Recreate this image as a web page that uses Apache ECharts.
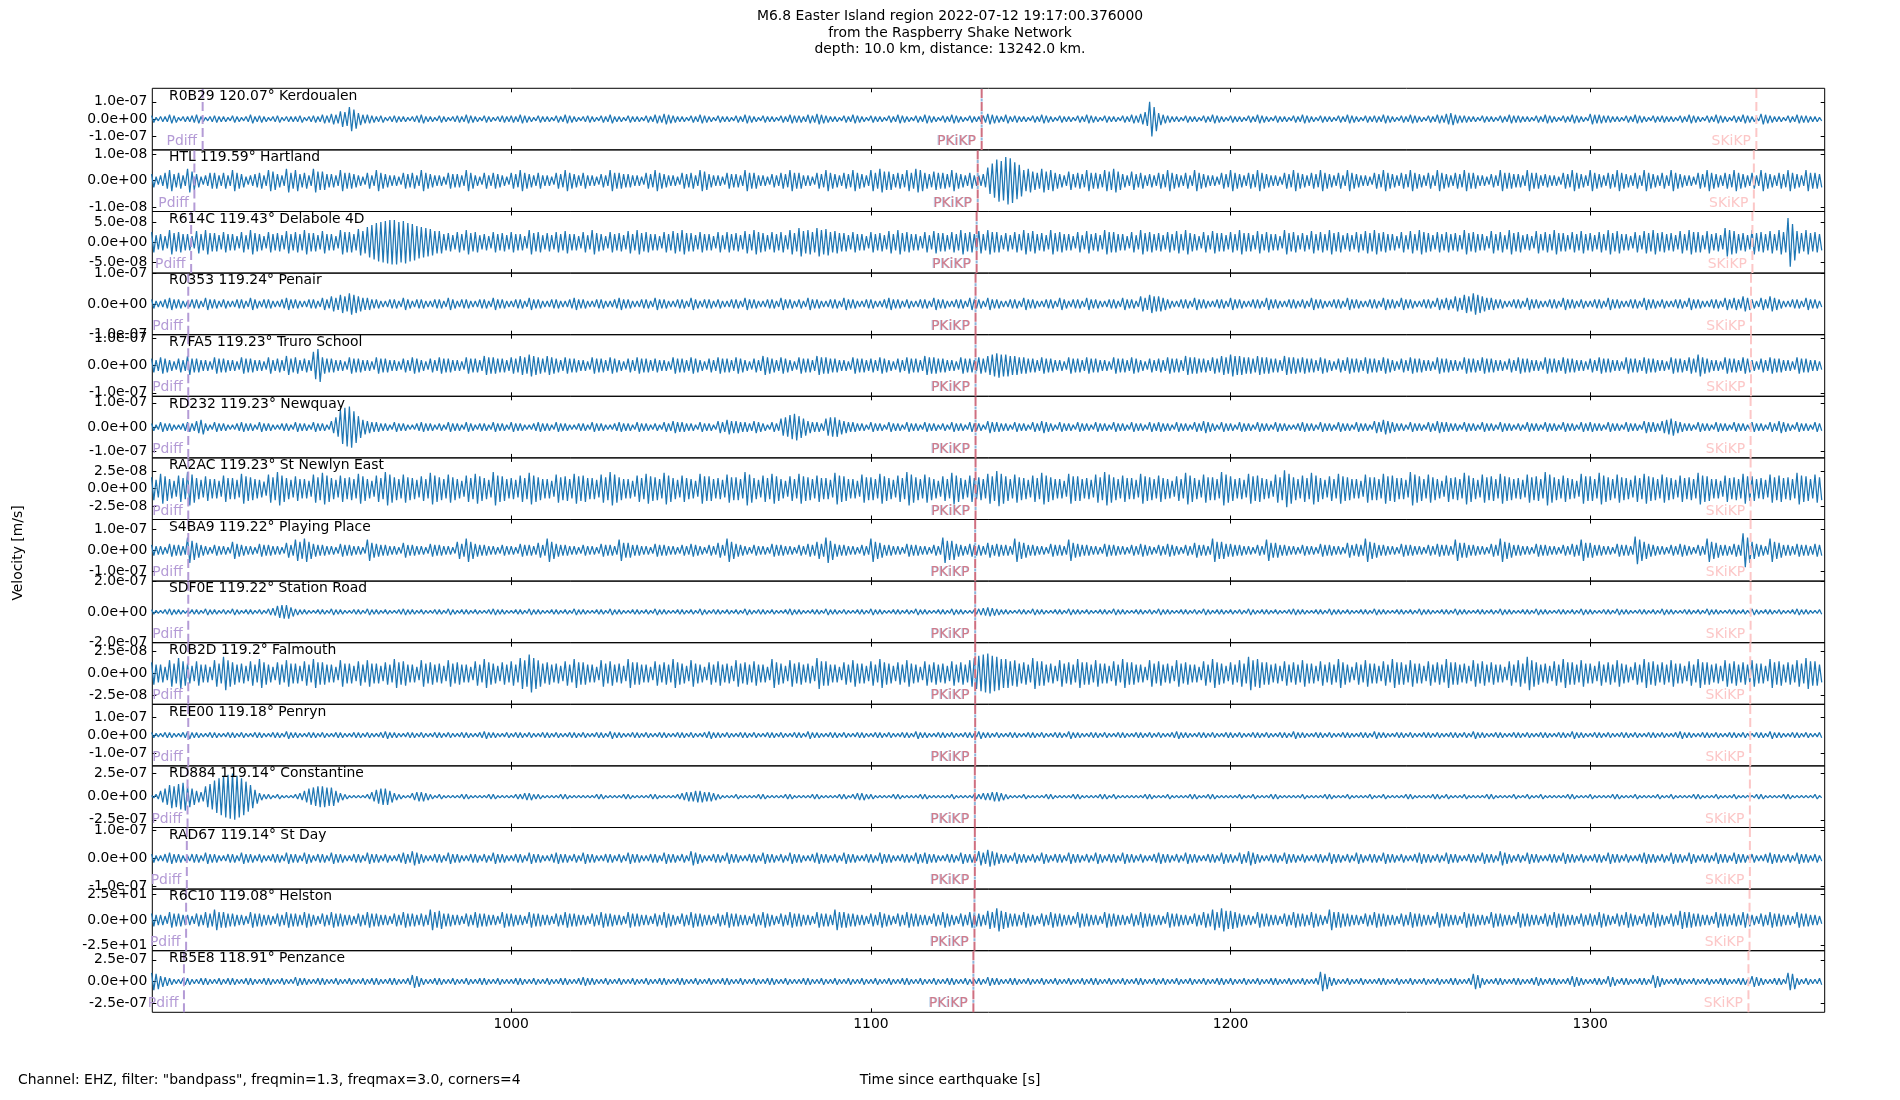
<!DOCTYPE html>
<html><head><meta charset="utf-8">
<script src="https://cdn.jsdelivr.net/npm/echarts@6/dist/echarts.min.js"></script>
<style>html,body{margin:0;padding:0;background:#fff}#c{width:1900px;height:1100px}</style>
</head><body><div id="c"></div>
<script>
// ---------------- data ----------------
const stationCodes = ['R0B29','HTL','R614C','R0353','R7FA5','RD232','RA2AC','S4BA9','SDF0E','R0B2D','REE00','RD884','RAD67','R6C10','RB5E8'];
const stationDist  = ['120.07','119.59','119.43','119.24','119.23','119.23','119.23','119.22','119.22','119.2','119.18','119.14','119.14','119.08','118.91'];
const stationNames = ['Kerdoualen','Hartland','Delabole 4D','Penair','Truro School','Newquay','St Newlyn East','Playing Place','Station Road','Falmouth','Penryn','Constantine','St Day','Helston','Penzance'];
const yTickValues  = [1e-7,1e-8,5e-8,1e-7,1e-7,1e-7,2.5e-8,1e-7,2e-7,2.5e-8,1e-7,2.5e-7,1e-7,25,2.5e-7];
const yHalfRange   = [1.78e-7,1.17e-8,7.6e-8,1.01e-7,1.13e-7,1.27e-7,4.38e-8,1.45e-7,2.03e-7,3.47e-8,1.71e-7,3.33e-7,1.09e-7,30,3.55e-7];
const ampUnits     = [5e-9,5e-10,2.5e-9,5e-9,5e-9,5e-9,1.25e-9,5e-9,5e-9,1.25e-9,5e-9,1.25e-8,5e-9,1.25,1.25e-8];
const pdiffTimes   = [914.2,911.9,911.0,910.2,910.2,910.2,910.2,910.2,910.2,910.2,910.2,910.0,909.8,909.6,909.0];
const pkikpTimes   = [1130.8,1129.7,1129.4,1129.1,1129.1,1129.1,1129.1,1129.0,1129.0,1129.0,1129.0,1128.9,1128.9,1128.8,1128.5];
const skikpTimes   = [1346.2,1345.5,1345.1,1344.7,1344.7,1344.6,1344.6,1344.6,1344.6,1344.5,1344.5,1344.4,1344.4,1344.3,1344.0];
const xTickValues  = [1000,1100,1200,1300];
const timeMin = 900.2, timeMax = 1365.2;
// peak amplitude per 1.25 s bin (in ampUnits), first bin at 900 s; each bin drawn as +peak then -peak
const binStart = 900, binStep = 1.25;

const ampR0B29 = [
4,2,3,3,5,4,2,3,3,4,5,3,2,3,4,3, 3,2,4,3,2,3,5,3,4,3,2,3,4,2,3,3, 3,4,2,3,4,3,5,4,6,5,9,8,14,11,7,5, 5,4,3,4,2,3,4,3,3,2,3,4,5,3,3,2,
4,3,2,3,4,3,5,4,3,2,4,3,2,3,4,3, 4,3,5,4,3,2,4,3,3,2,4,3,5,4,3,2, 3,4,3,2,4,3,5,3,3,2,4,3,3,2,4,3, 5,4,6,5,4,3,3,2,4,3,5,4,3,2,4,3,
3,2,4,3,5,4,3,2,4,3,3,2,4,3,5,4, 4,3,5,4,6,5,4,3,3,2,4,3,5,4,3,2, 4,3,3,2,4,3,5,4,3,2,4,3,5,4,3,2, 4,3,5,4,3,2,4,3,3,4,6,5,4,3,5,3,
4,3,3,2,4,3,5,4,3,2,4,3,3,2,4,3, 5,4,3,2,4,3,3,2,4,3,5,4,6,8,20,14, 7,5,4,3,3,2,4,3,3,2,4,3,5,4,3,2, 4,3,3,2,4,3,5,4,3,2,4,3,3,2,4,3,
5,4,3,2,4,3,3,2,4,3,5,4,3,2,4,3, 4,3,5,4,3,2,4,3,5,4,3,2,4,3,5,4, 6,7,5,4,4,3,3,2,4,3,3,2,4,3,5,4, 4,3,3,2,4,3,5,4,3,2,4,3,5,4,3,2,
6,5,5,4,4,3,3,2,4,3,5,4,3,2,4,3, 4,3,3,2,4,3,5,4,3,2,4,3,5,4,3,2, 4,3,5,4,3,2,6,5,4,3,3,2,4,3,5,4, 4,3,3,2];
const ampHTL = [
5,3,4,6,8,5,6,4,9,7,5,3,4,6,6,4, 6,4,8,6,5,3,4,5,6,4,8,7,5,4,9,6, 8,5,6,4,9,7,7,5,5,4,8,6,6,5,4,3, 6,4,8,6,5,4,4,3,6,5,6,4,8,6,5,4,
4,3,6,5,5,4,8,6,4,3,6,4,6,5,4,3, 6,5,8,6,5,4,6,4,4,3,6,5,8,6,5,4, 6,4,4,3,5,4,8,6,6,5,5,4,4,3,6,5, 8,6,5,4,4,3,6,5,6,4,8,7,5,4,4,3,
6,5,5,4,8,6,6,4,4,3,5,4,6,5,8,6, 6,4,4,3,6,5,8,6,5,4,6,5,8,6,5,4, 8,6,9,7,7,5,6,5,8,6,9,8,6,5,7,6, 6,5,8,6,5,4,6,4,4,5,10,13,16,15,18,17,
14,12,8,9,7,6,9,7,8,6,5,4,7,5,6,5, 8,6,6,5,8,7,9,7,5,4,7,5,6,4,5,4, 6,5,8,6,5,4,6,4,8,6,5,4,4,3,6,5, 8,6,5,4,6,5,8,6,5,4,4,3,6,5,8,6,
5,4,6,5,8,6,5,4,6,4,8,6,5,4,4,3, 6,5,8,6,5,4,6,5,8,6,5,4,6,4,8,6, 5,4,6,5,8,6,6,4,4,3,5,4,8,6,6,5, 5,4,8,6,6,4,5,4,4,3,6,5,8,6,5,4,
8,6,5,4,6,5,8,6,5,4,6,4,8,6,5,4, 6,4,8,6,5,4,4,3,6,5,8,6,5,4,6,5, 8,6,5,4,6,4,8,6,5,4,6,5,8,6,5,4, 8,6,6,5];
const ampR614C = [
10,7,8,6,12,9,10,8,8,6,11,8,12,9,9,7, 10,8,8,6,10,7,12,9,8,6,10,8,9,7,11,8, 10,8,12,9,9,7,11,8,8,6,12,10,10,8,13,11, 15,17,19,20,21,22,22,20,21,19,18,16,15,14,13,11,
11,8,9,7,10,8,12,9,10,7,8,6,10,8,9,7, 10,8,8,6,12,9,10,7,9,7,10,8,11,8,8,6, 10,7,12,9,8,6,10,8,9,7,11,8,12,9,10,8, 8,6,10,8,11,9,12,9,9,7,10,8,8,6,10,7,
10,8,9,7,11,8,12,10,9,7,10,8,10,7,12,9, 14,11,12,10,14,12,13,10,11,9,9,7,10,8,8,6, 10,8,9,7,11,8,12,9,10,8,8,6,10,7,11,9, 9,7,10,8,12,9,10,8,11,8,12,10,10,7,9,7,
10,8,12,9,11,8,9,7,12,9,10,8,8,6,10,7, 11,8,9,7,12,10,10,8,8,6,10,7,12,9,10,8, 9,7,10,8,11,8,12,9,8,6,10,7,11,9,9,7, 10,8,12,9,9,7,11,8,10,8,8,6,12,9,10,7,
9,7,11,8,10,8,12,9,10,7,9,7,10,8,11,9, 12,9,10,8,8,6,10,7,11,8,12,10,9,7,10,8, 10,8,9,7,12,9,10,8,8,6,11,8,10,7,12,9, 10,7,8,6,11,8,10,8,12,9,9,7,10,8,11,8,
9,7,10,8,12,9,11,8,8,6,10,7,11,9,12,9, 10,8,9,7,11,8,12,10,10,7,11,8,9,7,14,12, 11,8,9,7,12,9,10,8,11,8,12,10,24,18,11,9, 12,9,10,8];
const ampR0353 = [
3,2,2,3,4,3,3,2,2,3,3,2,4,3,3,2, 3,2,2,3,3,2,4,3,2,3,3,2,2,3,4,3, 3,2,2,3,3,2,4,3,5,4,6,5,7,6,5,4, 4,3,3,2,2,3,3,2,4,3,2,3,3,2,2,3,
3,2,4,3,2,3,3,2,2,3,3,2,4,3,3,2, 2,3,3,2,4,3,3,2,2,3,3,2,2,3,4,3, 3,2,2,3,3,2,2,3,4,3,3,2,2,3,3,2, 4,3,3,2,2,3,3,2,4,3,2,3,3,2,3,2,
2,3,3,2,4,3,3,2,2,3,3,2,4,3,3,2, 3,2,4,3,3,2,2,3,3,2,4,3,3,2,2,3, 3,2,2,3,4,3,3,2,3,2,2,3,3,2,4,3, 3,2,2,3,3,2,4,3,3,2,4,3,3,2,2,3,
3,2,4,3,3,2,2,3,3,2,4,3,2,3,3,2, 4,3,3,2,2,3,3,2,4,3,3,2,5,4,6,5, 5,4,3,2,2,3,3,2,4,3,3,2,2,3,3,2, 4,3,3,2,2,3,3,2,4,3,3,2,2,3,3,2,
3,2,4,3,3,2,2,3,3,2,4,3,3,2,2,3, 3,2,4,3,3,2,4,3,3,2,2,3,3,2,4,3, 4,3,5,4,6,5,7,6,5,4,4,3,3,2,2,3, 3,2,4,3,3,2,2,3,3,2,4,3,3,2,3,2,
2,3,3,2,4,3,3,2,2,3,3,2,4,3,3,2, 3,2,2,3,3,2,4,3,3,2,2,3,3,2,4,3, 4,3,5,4,3,2,4,3,5,4,3,2,2,3,3,2, 4,3,3,2];
const ampR7FA5 = [
5,4,6,5,4,3,5,4,7,5,5,4,4,3,6,5, 5,4,4,3,6,5,5,4,4,3,6,4,5,4,7,5, 6,4,5,4,10,12,6,5,5,4,4,3,6,5,5,4, 4,3,6,5,5,4,4,3,5,4,6,5,4,3,5,4,
6,5,5,4,4,3,6,5,5,4,7,6,6,5,5,4, 6,5,7,6,8,7,6,5,7,6,5,4,6,5,5,4, 4,3,6,5,5,4,6,5,4,3,5,4,6,5,5,4, 5,4,4,3,6,5,5,4,6,5,4,3,5,4,6,5,
5,4,6,5,4,3,5,4,7,6,5,4,6,5,4,3, 6,5,5,4,7,6,6,5,5,4,4,3,6,5,5,4, 5,4,6,5,4,3,5,4,6,5,5,4,7,6,6,5, 5,4,4,3,6,5,5,4,6,5,7,8,9,8,8,7,
7,6,6,5,5,4,6,5,5,4,4,3,6,5,5,4, 6,5,5,4,4,3,6,5,5,4,6,5,4,3,5,4, 5,4,6,5,5,4,7,6,6,5,5,4,6,5,7,6, 8,7,7,6,6,5,7,6,6,5,5,4,7,6,6,5,
6,5,5,4,6,5,4,3,5,4,6,5,5,4,6,5, 5,4,6,5,4,3,5,4,6,5,5,4,4,3,6,5, 5,4,4,3,6,5,5,4,6,5,5,4,4,3,5,4, 6,5,5,4,4,3,6,5,5,4,6,5,5,4,4,3,
5,4,6,5,5,4,4,3,6,5,5,4,6,5,5,4, 4,3,6,5,5,4,6,5,8,6,5,4,4,3,6,5, 5,4,6,5,4,3,5,4,6,5,5,4,4,3,6,5, 5,4,4,3];
const ampRD232 = [
3,2,4,3,3,2,2,3,4,3,5,6,3,2,4,3, 3,2,2,3,4,3,3,2,4,3,3,2,2,3,3,2, 4,3,3,2,4,3,3,2,5,8,14,16,17,13,9,6, 5,4,4,3,3,2,4,3,3,2,2,3,4,3,3,2,
3,2,4,3,3,2,4,3,2,3,3,2,4,3,3,2, 4,3,3,2,2,3,4,3,3,2,4,3,3,2,2,3, 3,2,4,3,3,2,2,3,4,3,3,2,4,3,3,2, 3,2,4,3,5,4,4,3,3,2,4,3,3,2,5,4,
6,5,5,4,4,3,5,4,3,2,4,3,7,8,10,11, 9,7,5,4,4,3,7,8,8,6,5,4,4,3,3,2, 4,3,3,2,4,3,3,2,4,3,3,2,4,3,3,2, 3,2,4,3,3,2,4,3,3,2,5,4,4,3,3,2,
4,3,3,2,4,3,5,4,3,2,4,3,3,2,4,3, 3,2,4,3,3,2,4,3,3,2,4,3,3,2,4,3, 4,3,3,2,4,3,3,2,4,3,5,4,3,2,4,3, 3,2,4,3,3,2,4,3,3,2,4,3,3,2,2,3,
4,3,3,2,4,3,3,2,4,3,3,2,4,3,3,2, 5,4,6,5,4,3,3,2,4,3,3,2,4,3,5,4, 4,3,3,2,4,3,3,2,4,3,3,2,4,3,3,2, 3,2,4,3,3,2,4,3,3,2,4,3,3,2,4,3,
4,3,3,2,4,3,3,2,4,3,3,2,5,4,4,3, 5,6,7,5,4,3,3,2,4,3,3,2,4,3,3,2, 4,3,3,2,4,3,3,2,4,3,5,4,3,2,4,3, 3,2,4,3];
const ampRA2AC = [
13,10,17,14,11,9,15,12,19,16,12,10,14,11,11,9, 15,12,12,10,17,14,13,11,10,8,16,13,19,15,12,10, 14,11,11,9,16,13,18,15,12,10,15,12,13,11,17,14, 11,9,15,12,19,16,13,11,16,13,12,10,14,11,18,15,
13,11,16,13,11,9,15,12,17,14,12,10,19,15,14,11, 12,10,15,12,18,15,13,11,11,9,16,13,14,11,17,14, 15,12,12,10,16,13,19,16,13,11,11,9,15,12,17,14, 13,11,18,15,12,10,15,12,11,9,17,14,14,11,12,10,
16,13,13,11,19,16,12,10,15,12,17,14,11,9,14,11, 17,14,13,11,15,12,12,10,18,15,14,11,11,9,16,13, 13,11,17,14,12,10,15,12,19,16,13,11,16,13,11,9, 14,11,18,15,12,10,15,12,13,11,17,14,20,17,14,11,
16,13,12,10,15,12,18,15,13,11,11,9,17,14,14,11, 12,10,16,13,19,16,13,11,15,12,12,10,17,14,13,11, 15,12,11,9,14,11,18,15,12,10,16,13,13,11,19,16, 14,11,12,10,17,14,15,12,11,9,16,13,21,17,13,11,
15,12,18,15,12,10,14,11,17,14,13,11,11,9,16,13, 13,11,17,14,15,12,12,10,19,16,14,11,16,13,11,9, 15,12,13,11,18,15,12,10,16,13,14,11,17,14,13,11, 12,10,16,13,14,11,19,16,13,11,15,12,11,9,17,14,
14,11,18,15,13,11,16,13,12,10,15,12,17,14,13,11, 16,13,12,10,15,12,13,11,18,15,14,11,11,9,15,12, 13,11,17,14,14,11,12,10,16,13,15,12,13,11,18,15, 14,11,16,13];
const ampS4BA9 = [
5,4,4,3,6,5,5,4,12,9,7,5,4,3,5,4, 4,3,8,6,5,4,4,3,6,5,5,4,4,3,7,5, 10,8,11,8,6,5,5,4,4,3,6,5,5,4,4,3, 10,7,6,5,5,4,4,3,7,5,5,4,4,3,6,5,
5,4,4,3,8,6,11,8,6,5,5,4,4,3,5,4, 4,3,6,5,5,4,7,5,11,8,6,5,5,4,4,3, 5,4,4,3,6,5,5,4,10,7,7,5,5,4,4,3, 6,5,5,4,4,3,5,4,6,5,4,3,5,4,7,5,
11,8,6,5,4,3,5,4,4,3,6,5,5,4,4,3, 5,4,6,5,8,6,12,9,6,5,5,4,4,3,5,4, 11,8,7,5,5,4,4,3,6,5,5,4,4,3,5,4, 12,9,9,6,5,4,6,5,5,4,7,5,6,5,5,4,
11,8,7,5,5,4,4,3,6,5,5,4,10,7,6,5, 5,4,4,3,6,5,5,4,4,3,5,4,6,5,4,3, 5,4,6,5,4,3,5,4,7,5,5,4,11,8,8,6, 6,5,5,4,4,3,5,4,10,7,7,5,5,4,4,3,
5,4,4,3,6,5,5,4,4,3,7,5,6,5,11,8, 7,5,5,4,4,3,6,5,5,4,4,3,5,4,6,5, 5,4,10,7,7,5,5,4,4,3,6,5,11,8,7,5, 5,4,4,3,6,5,5,4,4,3,5,4,6,5,10,7,
7,5,5,4,4,3,6,5,5,4,13,10,8,6,5,4, 4,3,5,4,6,5,4,3,5,4,11,8,7,5,5,4, 6,5,16,12,8,6,5,4,11,8,7,5,5,4,6,5, 5,4,6,5];
const ampSDF0E = [
3,2,2,3,4,3,3,2,2,3,3,2,4,3,3,2, 3,2,4,3,2,3,3,2,3,2,4,5,8,9,9,6, 4,3,3,2,2,3,3,2,4,3,3,2,2,3,3,2, 4,3,3,2,3,2,2,3,4,3,3,2,3,2,2,3,
3,2,4,3,2,3,3,2,3,2,2,3,4,3,3,2, 2,3,3,2,4,3,3,2,2,3,3,2,3,2,4,3, 3,2,2,3,3,2,4,3,3,2,2,3,3,2,3,2, 4,3,3,2,2,3,3,2,3,2,4,3,2,3,3,2,
3,2,3,2,4,3,2,3,3,2,3,2,2,3,4,3, 3,2,2,3,3,2,4,3,3,2,3,2,2,3,3,2, 4,3,3,2,2,3,3,2,3,2,4,3,3,2,2,3, 3,2,4,3,3,2,2,3,4,5,6,5,4,3,3,2,
2,3,3,2,4,3,3,2,2,3,3,2,4,3,3,2, 3,2,2,3,3,2,4,3,3,2,2,3,3,2,3,2, 4,3,3,2,2,3,3,2,3,2,4,3,2,3,3,2, 3,2,3,2,4,3,2,3,3,2,3,2,2,3,4,3,
3,2,2,3,3,2,4,3,3,2,3,2,2,3,3,2, 4,3,3,2,2,3,3,2,3,2,4,3,3,2,2,3, 3,2,4,3,3,2,2,3,3,2,3,2,4,3,3,2, 2,3,3,2,4,3,3,2,2,3,3,2,3,2,4,3,
3,2,2,3,3,2,4,3,3,2,2,3,3,2,3,2, 4,3,3,2,2,3,3,2,3,2,4,3,3,2,2,3, 3,2,3,2,4,3,2,3,3,2,3,2,2,3,4,3, 3,2,2,3];
const ampR0B2D = [
10,8,8,6,12,9,14,11,9,7,11,8,8,6,12,9, 15,12,10,8,9,7,11,8,13,10,8,6,10,8,12,9, 9,7,11,8,13,10,10,8,8,6,12,9,9,7,11,8, 12,9,9,7,10,8,13,10,11,8,8,6,12,9,10,8,
9,7,12,9,10,8,8,6,11,8,13,10,9,7,10,8, 11,8,14,12,17,14,12,9,10,8,9,7,11,8,13,10, 10,8,8,6,12,9,11,8,9,7,13,10,10,8,8,6, 11,8,10,8,13,10,9,7,12,9,8,6,10,8,11,8,
9,7,12,9,10,8,11,8,8,6,13,10,9,7,12,9, 10,8,9,7,14,11,11,8,8,6,10,8,12,9,9,7, 11,8,13,10,9,7,10,8,12,9,8,6,11,8,10,8, 9,7,11,8,10,8,12,14,16,17,18,16,15,13,13,11,
12,9,10,8,14,11,11,8,9,7,12,9,10,8,13,10, 10,8,12,9,9,7,11,8,13,10,10,8,8,6,12,9, 11,8,9,7,12,9,10,8,8,6,11,8,13,10,9,7, 10,8,12,9,15,12,13,10,10,8,9,7,11,8,10,8,
12,9,9,7,11,8,10,8,13,10,8,6,10,8,12,9, 9,7,11,8,13,10,10,8,12,9,9,7,11,8,10,8, 13,10,10,8,9,7,12,9,11,8,10,8,8,6,11,8, 12,9,15,12,10,8,9,7,11,8,13,10,10,8,12,9,
9,7,11,8,10,8,12,9,8,6,10,8,13,10,11,8, 10,8,12,9,9,7,11,8,13,10,10,8,9,7,12,9, 11,8,10,8,12,9,9,7,13,10,11,8,10,8,12,9, 14,11,11,8];
const ampREE00 = [
3,2,2,3,3,2,2,3,4,3,3,2,2,3,3,2, 2,3,3,2,3,2,2,3,3,2,2,3,3,2,4,3, 3,2,2,3,3,2,3,2,2,3,3,2,2,3,3,2, 3,2,2,3,4,3,3,2,2,3,3,2,3,2,2,3,
3,2,3,2,2,3,3,2,2,3,4,3,3,2,2,3, 2,3,3,2,3,2,2,3,3,2,3,2,2,3,3,2, 3,2,2,3,3,2,4,3,3,2,2,3,3,2,3,2, 2,3,3,2,2,3,3,2,3,2,2,3,4,3,3,2,
3,2,2,3,3,2,3,2,2,3,3,2,3,2,2,3, 3,2,4,3,3,2,2,3,3,2,3,2,2,3,3,2, 2,3,3,2,3,2,2,3,3,2,4,3,3,2,2,3, 3,2,3,2,2,3,3,2,4,3,3,2,3,2,2,3,
3,2,2,3,3,2,3,2,2,3,3,2,4,3,3,2, 2,3,3,2,3,2,2,3,3,2,2,3,3,2,3,2, 3,2,2,3,4,3,3,2,2,3,3,2,3,2,2,3, 3,2,3,2,2,3,3,2,3,2,2,3,3,2,4,3,
3,2,2,3,3,2,3,2,2,3,3,2,2,3,3,2, 4,3,3,2,2,3,3,2,3,2,2,3,3,2,3,2, 2,3,3,2,3,2,4,3,3,2,2,3,3,2,2,3, 3,2,3,2,2,3,3,2,2,3,3,2,4,3,3,2,
2,3,3,2,3,2,2,3,3,2,3,2,2,3,3,2, 3,2,2,3,4,3,3,2,2,3,3,2,3,2,2,3, 3,2,3,2,2,3,3,2,4,3,3,2,2,3,3,2, 3,2,2,3];
const ampRD884 = [
1,2,5,7,10,9,11,12,9,7,5,4,9,11,14,16, 18,19,20,18,16,13,10,6,3,2,2,1,2,1,1,1, 2,3,5,7,8,9,9,8,8,5,3,2,1,1,1,1, 2,4,6,7,7,5,3,2,1,1,3,4,4,3,2,1,
2,1,1,1,1,2,2,1,1,1,1,2,2,1,1,1, 1,2,2,3,3,2,2,1,1,1,1,2,2,1,1,1, 1,1,1,2,2,1,1,1,1,2,2,1,1,1,1,2, 2,1,1,1,1,2,3,4,4,5,5,4,4,3,2,1,
1,1,2,1,1,1,1,2,2,1,1,1,1,2,2,1, 1,1,1,2,2,1,1,1,1,2,2,1,2,3,3,2, 2,1,1,1,1,2,2,1,1,1,1,2,2,1,1,1, 1,1,2,1,1,1,1,2,2,3,3,4,4,3,2,1,
1,1,2,1,1,1,1,2,2,1,1,1,1,2,2,1, 1,1,1,2,2,1,2,1,1,1,1,1,1,2,2,1, 1,1,2,1,1,1,1,2,2,1,1,2,2,1,1,1, 1,1,2,1,1,2,1,1,1,2,2,1,1,1,1,1,
2,1,1,1,1,2,2,1,1,1,2,1,1,1,1,2, 1,1,2,1,1,1,1,2,2,1,1,1,1,2,2,1, 2,1,1,1,2,1,1,1,1,2,2,1,1,1,1,2, 1,1,2,1,1,2,1,1,1,1,1,2,2,1,1,1,
2,1,1,1,1,2,2,1,1,1,2,1,1,1,1,2, 1,1,2,1,1,1,1,2,2,1,1,1,2,1,1,1, 2,1,1,1,1,2,2,1,1,1,1,2,2,1,1,1, 1,1,2,1];
const ampRAD67 = [
3,2,2,3,4,3,3,2,2,3,3,2,4,3,3,2, 2,3,3,2,4,3,3,2,3,2,2,3,3,2,4,3, 3,2,4,3,2,3,3,2,4,3,3,2,2,3,3,2, 4,3,3,2,3,2,2,3,4,3,5,4,3,2,2,3,
3,2,4,3,3,2,2,3,3,2,3,2,4,3,3,2, 2,3,3,2,4,3,3,2,2,3,4,3,3,2,3,2, 4,3,3,2,2,3,3,2,3,2,4,3,3,2,2,3, 3,2,4,3,3,2,3,2,5,4,3,2,2,3,3,2,
4,3,3,2,2,3,3,2,4,3,3,2,3,2,4,3, 3,2,2,3,4,3,3,2,3,2,4,3,3,2,2,3, 3,2,4,3,3,2,2,3,3,2,4,3,4,3,3,2, 2,3,3,2,4,3,3,2,5,4,6,5,4,3,3,2,
4,3,3,2,3,2,4,3,2,3,3,2,4,3,3,2, 3,2,4,3,2,3,3,2,4,3,3,2,3,2,2,3, 4,3,3,2,3,2,4,3,3,2,2,3,3,2,4,3, 3,2,4,3,5,4,3,2,2,3,3,2,4,3,3,2,
3,2,2,3,3,2,4,3,3,2,3,2,4,3,2,3, 3,2,4,3,3,2,3,2,2,3,4,3,3,2,3,2, 4,3,3,2,2,3,3,2,4,3,3,2,5,4,3,2, 3,2,4,3,3,2,2,3,3,2,4,3,3,2,3,2,
2,3,3,2,4,3,3,2,3,2,2,3,4,3,3,2, 3,2,4,3,3,2,4,3,2,3,3,2,4,3,3,2, 4,3,3,2,3,2,2,3,4,3,3,2,3,2,4,3, 3,2,3,2];
const ampR6C10 = [
5,4,4,3,6,5,5,4,4,3,5,4,6,5,8,6, 6,5,5,4,4,3,6,5,5,4,4,3,5,4,6,5, 5,4,6,5,4,3,5,4,6,5,5,4,4,3,5,4, 6,5,5,4,4,3,5,4,6,5,5,4,5,4,8,6,
7,5,5,4,4,3,5,4,6,5,5,4,4,3,6,5, 5,4,4,3,6,5,5,4,4,3,5,4,6,5,5,4, 4,3,5,4,6,5,5,4,4,3,6,5,5,4,4,3, 5,4,6,5,4,3,5,4,6,5,5,4,4,3,5,4,
6,5,5,4,4,3,5,4,6,5,4,3,5,4,6,5, 5,4,4,3,6,5,5,4,8,6,6,5,5,4,4,3, 5,4,6,5,4,3,5,4,6,5,5,4,4,3,5,4, 6,5,4,3,5,4,6,5,5,4,7,6,9,7,6,5,
5,4,6,5,4,3,5,4,6,5,5,4,4,3,6,5, 5,4,4,3,6,5,5,4,4,3,5,4,6,5,5,4, 4,3,6,5,5,4,4,3,5,4,6,5,8,6,9,7, 7,6,5,4,4,3,6,5,5,4,4,3,5,4,6,5,
5,4,6,5,4,3,8,6,6,5,5,4,4,3,5,4, 6,5,5,4,4,3,5,4,6,5,5,4,4,3,6,5, 5,4,4,3,6,5,5,4,4,3,6,5,5,4,4,3, 6,5,5,4,4,3,5,4,6,5,5,4,4,3,5,4,
5,4,6,5,4,3,5,4,6,5,4,3,5,4,6,5, 4,3,5,4,7,6,6,5,5,4,4,3,6,5,5,4, 5,4,6,5,4,3,5,4,6,5,5,4,4,3,6,5, 5,4,4,3];
const ampRB5E8 = [
8,7,5,4,3,2,2,3,3,2,2,3,3,2,2,3, 2,3,3,2,2,3,3,2,2,3,3,2,2,3,2,2, 4,3,3,2,2,3,3,2,2,3,2,2,3,2,2,3, 2,3,3,2,2,3,3,2,2,3,6,5,3,2,2,3,
3,2,2,3,2,2,3,2,2,3,3,2,2,3,2,2, 2,3,3,2,2,3,2,2,3,2,2,3,3,2,2,3, 4,3,3,2,2,3,2,2,3,2,2,3,2,2,3,2, 2,3,3,2,2,3,3,2,2,3,2,2,3,2,2,3,
3,2,2,3,2,2,3,2,2,3,3,2,2,3,2,2, 2,3,3,2,2,3,2,2,3,2,2,3,2,2,3,2, 2,3,2,2,3,2,2,3,3,2,2,3,2,2,3,2, 2,3,3,2,2,3,2,2,3,2,4,3,3,2,2,3,
3,2,2,3,2,2,3,2,2,3,2,2,3,2,2,3, 2,3,3,2,2,3,2,2,3,2,2,3,3,2,2,3, 2,3,2,2,3,2,2,3,2,2,3,2,2,3,3,2, 3,2,2,3,2,2,3,2,2,3,3,2,2,3,2,2,
3,2,2,3,9,7,4,3,2,2,3,2,2,3,2,2, 2,3,3,2,2,3,2,2,3,2,2,3,2,2,3,2, 2,3,3,2,2,3,7,6,3,2,2,3,3,2,2,3, 3,2,2,3,4,3,2,3,3,2,2,3,5,4,3,2,
2,3,3,2,5,4,2,3,3,2,2,3,3,2,6,5, 3,2,2,3,3,2,2,3,2,2,3,2,2,3,3,2, 2,3,3,2,5,4,3,2,2,3,3,2,8,7,3,2, 3,2,2,3];

const traceAmps = [ampR0B29,ampHTL,ampR614C,ampR0353,ampR7FA5,ampRD232,ampRA2AC,ampS4BA9,ampSDF0E,ampR0B2D,ampREE00,ampRD884,ampRAD67,ampR6C10,ampRB5E8];

// ---------------- layout / style ----------------
const FF = 'DejaVu Sans';
const FS = 13.9;
const LEFT = 152.3, WIDTH = 1672.4, TOP = 88.3, PH = 61.6;
const TRACE_COLOR = '#1f77b4';
const PDIFF_COLOR = '#b49bd6', PKIKP_COLOR = '#cf6f80', PKIKP_BLUE = '#8fb4da', SKIKP_COLOR = '#fcc7c7';

function sci(v){
  if (v === 0) return '0.0e+00';
  const m = v.toExponential(1).match(/^(-?\d\.\d)e([+-])(\d+)$/);
  return m[1] + 'e' + m[2] + (m[3].length < 2 ? '0' + m[3] : m[3]);
}

const grid = [], xAxis = [], yAxis = [], series = [], graphic = [];
for (let i = 0; i < 15; i++) {
  const top = TOP + i * PH;
  const R = yHalfRange[i], Tk = yTickValues[i];
  const yt = [-Tk, 0, Tk];
  grid.push({left: LEFT, top: top, width: WIDTH, height: PH, show: true, borderColor: '#000', borderWidth: 1, backgroundColor: 'transparent'});
  const last = (i === 14);
  const tickStyle = {color: '#000', width: 1};
  xAxis.push({type: 'value', gridIndex: i, min: timeMin, max: timeMax, position: 'bottom',
    axisLine: {show: false, onZero: false}, splitLine: {show: false},
    axisTick: {show: true, inside: true, length: 4, customValues: xTickValues, lineStyle: tickStyle},
    axisLabel: {show: last, customValues: xTickValues, formatter: v => String(v), fontSize: FS, fontFamily: FF, color: '#000', margin: 5}});
  xAxis.push({type: 'value', gridIndex: i, min: timeMin, max: timeMax, position: 'top',
    axisLine: {show: false, onZero: false}, splitLine: {show: false},
    axisTick: {show: true, inside: true, length: 4, customValues: xTickValues, lineStyle: tickStyle},
    axisLabel: {show: false}});
  yAxis.push({type: 'value', gridIndex: i, min: -R, max: R, position: 'left',
    axisLine: {show: false, onZero: false}, splitLine: {show: false},
    axisTick: {show: true, inside: true, length: 4, customValues: yt, lineStyle: tickStyle},
    axisLabel: {show: true, customValues: yt, formatter: v => sci(v), fontSize: FS, fontFamily: FF, color: '#000', margin: 5}});
  yAxis.push({type: 'value', gridIndex: i, min: -R, max: R, position: 'right',
    axisLine: {show: false, onZero: false}, splitLine: {show: false},
    axisTick: {show: true, inside: true, length: 4, customValues: [-Tk, Tk], lineStyle: tickStyle},
    axisLabel: {show: false}});

  const xi = 2 * i, yi = 2 * i;
  const u = ampUnits[i];
  const pts = [];
  traceAmps[i].forEach((a, k) => {
    const t = binStart + k * binStep;
    pts.push([t, a * u]);
    pts.push([t + binStep / 2, -a * u]);
  });
  series.push({type: 'line', xAxisIndex: xi, yAxisIndex: yi, data: pts, symbol: 'none', showSymbol: false,
    lineStyle: {color: TRACE_COLOR, width: 1.25}, animation: false, silent: true, clip: true, z: 2});

  const vline = (t, color, dash, off) => ({type: 'line', xAxisIndex: xi, yAxisIndex: yi, data: [[t, -R], [t, R]], symbol: 'none',
    lineStyle: {color: color, width: 2, type: dash, dashOffset: off}, animation: false, silent: true, z: 3});
  const vlabel = (t, name, color, dx, op) => ({type: 'scatter', xAxisIndex: xi, yAxisIndex: yi, data: [[t, -R]], symbolSize: 1,
    itemStyle: {color: 'transparent'}, clip: false, animation: false, silent: true, z: 4,
    label: {show: true, position: 'left', distance: 5, offset: [dx, -8.5], formatter: name, color: color, opacity: op, fontSize: FS, fontFamily: FF}});
  series.push(vline(pdiffTimes[i], PDIFF_COLOR, [9, 4], 0));
  series.push(vline(pkikpTimes[i], PKIKP_BLUE, [3, 10], 3.5));
  series.push(vline(pkikpTimes[i], PKIKP_COLOR, [9, 4], 0));
  series.push(vline(skikpTimes[i], SKIKP_COLOR, [9, 4], 0));
  series.push(vlabel(pdiffTimes[i], 'Pdiff', PDIFF_COLOR, 0, 1));
  series.push(vlabel(pkikpTimes[i], 'PKiKP', PKIKP_BLUE, -1, 0.6));
  series.push(vlabel(pkikpTimes[i], 'PKiKP', PKIKP_COLOR, 0, 0.9));
  series.push(vlabel(skikpTimes[i], 'SKiKP', SKIKP_COLOR, 0, 1));

  graphic.push({type: 'text', x: 169, y: top + 7.7, z: 10, silent: true,
    style: {text: stationCodes[i] + ' ' + stationDist[i] + '\u00b0 ' + stationNames[i], font: FS + 'px "' + FF + '"', fill: '#000',
      textAlign: 'left', textVerticalAlign: 'middle', align: 'left', verticalAlign: 'middle'}});
}

const txt = (s, x, y, align, rot) => ({type: 'text', x: x, y: y, rotation: rot || 0, silent: true, z: 10,
  style: {text: s, font: FS + 'px "' + FF + '"', fill: '#000', textAlign: align, textVerticalAlign: 'middle', align: align, verticalAlign: 'middle'}});
graphic.push(txt('M6.8 Easter Island region 2022-07-12 19:17:00.376000', 950, 16.7, 'center'));
graphic.push(txt('from the Raspberry Shake Network', 950, 33.2, 'center'));
graphic.push(txt('depth: 10.0 km, distance: 13242.0 km.', 950, 49.4, 'center'));
graphic.push(txt('Channel: EHZ, filter: "bandpass", freqmin=1.3, freqmax=3.0, corners=4', 18, 1080, 'left'));
graphic.push(txt('Time since earthquake [s]', 950, 1080, 'center'));
graphic.push(txt('Velocity [m/s]', 18, 553, 'center', Math.PI / 2));

const chart = echarts.init(document.getElementById('c'), null, {renderer: 'canvas'});
chart.setOption({animation: false, backgroundColor: '#fff', grid, xAxis, yAxis, series, graphic});
</script>
</body></html>
